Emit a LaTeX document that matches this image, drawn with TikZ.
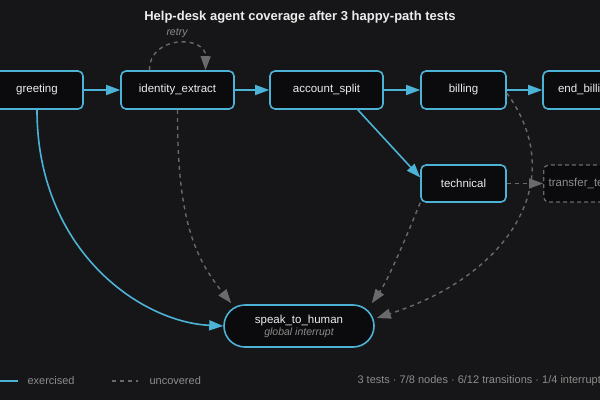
\documentclass[tikz,border=0pt]{standalone}
\usepackage{fontspec}
\setmainfont{Liberation Sans}
\usetikzlibrary{arrows.meta}
\definecolor{bg}{HTML}{161618}
\definecolor{boxfill}{HTML}{0B0B0D}
\definecolor{cov}{HTML}{4DB3D6}
\definecolor{unc}{HTML}{6A6A6A}
\definecolor{soft}{HTML}{8C8C8C}
\definecolor{head}{HTML}{ECECEC}

\begin{document}
\begin{tikzpicture}[x=1pt, y=-1pt,
  state/.style={draw=cov, line width=1.6pt, fill=boxfill, rounded corners=5pt,
    minimum height=38pt, inner sep=0pt, text=head, font=\fontsize{11.5}{13}\selectfont},
  ghost/.style={draw=unc, line width=1.3pt, dash pattern=on 4pt off 3pt, fill=boxfill,
    rounded corners=5pt, minimum height=37pt, inner ysep=0pt, inner xsep=5pt, text=soft,
    font=\fontsize{11.5}{13}\selectfont},
  hit/.style={draw=cov, line width=1.6pt, -{Triangle[length=14pt,width=10pt]}},
  miss/.style={draw=unc, line width=1.4pt, dash pattern=on 4pt off 4pt,
    -{Triangle[length=14pt,width=10pt,fill=unc]}},
  keytext/.style={anchor=west, text=soft, font=\fontsize{11}{13}\selectfont}]
\useasboundingbox (0,0) rectangle (600,400);
\fill[bg] (0,0) rectangle (600,400);
\clip (0,0) rectangle (600,400);

\node[font=\bfseries\fontsize{13}{15}\selectfont, text=head] (title) at (300,17)
  {Help-desk agent coverage after 3 happy-path tests};

\node[state, minimum width=92pt] (greeting) at (37,90) {greeting};
\node[state, minimum width=113pt] (ident) at (177.5,90) {identity\_extract};
\node[state, minimum width=113pt] (acct) at (326.5,90) {account\_split};
\node[state, minimum width=85pt] (billing) at (463.5,90) {billing};
\node[state, minimum width=85pt] (endbill) at (585.5,90) {end\_billing};
\node[state, minimum width=85pt, minimum height=37pt] (tech) at (463.5,183.5) {technical};
\node[ghost, anchor=west] (transfer) at (543,183.5) {transfer\_technician};
\node[state, minimum width=150pt, minimum height=42pt, rounded corners=21pt,
  align=center] (human) at (299,326)
  {speak\_to\_human\\[-1pt]{\color{soft}\itshape\fontsize{10.5}{12}\selectfont global interrupt}};

\draw[hit] (greeting.east) -- (ident.west);
\draw[hit] (ident.east) -- (acct.west);
\draw[hit] (acct.east) -- (billing.west);
\draw[hit] (billing.east) -- (endbill.west);
\draw[hit] ([xshift=-26pt]acct.south east) -- ([yshift=6pt]tech.west);
\draw[hit] (greeting.south) .. controls (37,250) and (140,322) .. (human.west);

\draw[miss] ([xshift=-28pt]ident.north) .. controls (149,35) and (206,35) .. ([xshift=28pt]ident.north);
\node[text=soft, font=\itshape\fontsize{10.5}{12}\selectfont] (retry) at (177,33) {retry};
\draw[miss] (ident.south) .. controls (177,220) and (195,258) .. ([xshift=8pt,yshift=1pt]human.north west);
\draw[miss] (tech.south west) .. controls (405,240) and (388,280) .. ([xshift=-3pt,yshift=1pt]human.north east);
\draw[miss] ([yshift=-3pt]billing.east) .. controls (570,180) and (510,275) .. ([xshift=2pt,yshift=8pt]human.east);
\draw[miss] (tech.east) -- (transfer.west);

\coordinate (k1) at (0,381);
\coordinate (k2) at (18,381);
\coordinate (k3) at (112,381);
\coordinate (k4) at (138,381);
\draw[cov, line width=1.6pt] (k1) -- (k2);
\node[keytext] (kexer) at (24,381) {exercised};
\draw[unc, line width=1.4pt, dash pattern=on 4pt off 4pt] (k3) -- (k4);
\node[keytext] (kunc) at (146,381) {uncovered};
\node[keytext] (stats) at (354,381)
  {3 tests · 7/8 nodes · 6/12 transitions · 1/4 interrupts};
\end{tikzpicture}
\end{document}
